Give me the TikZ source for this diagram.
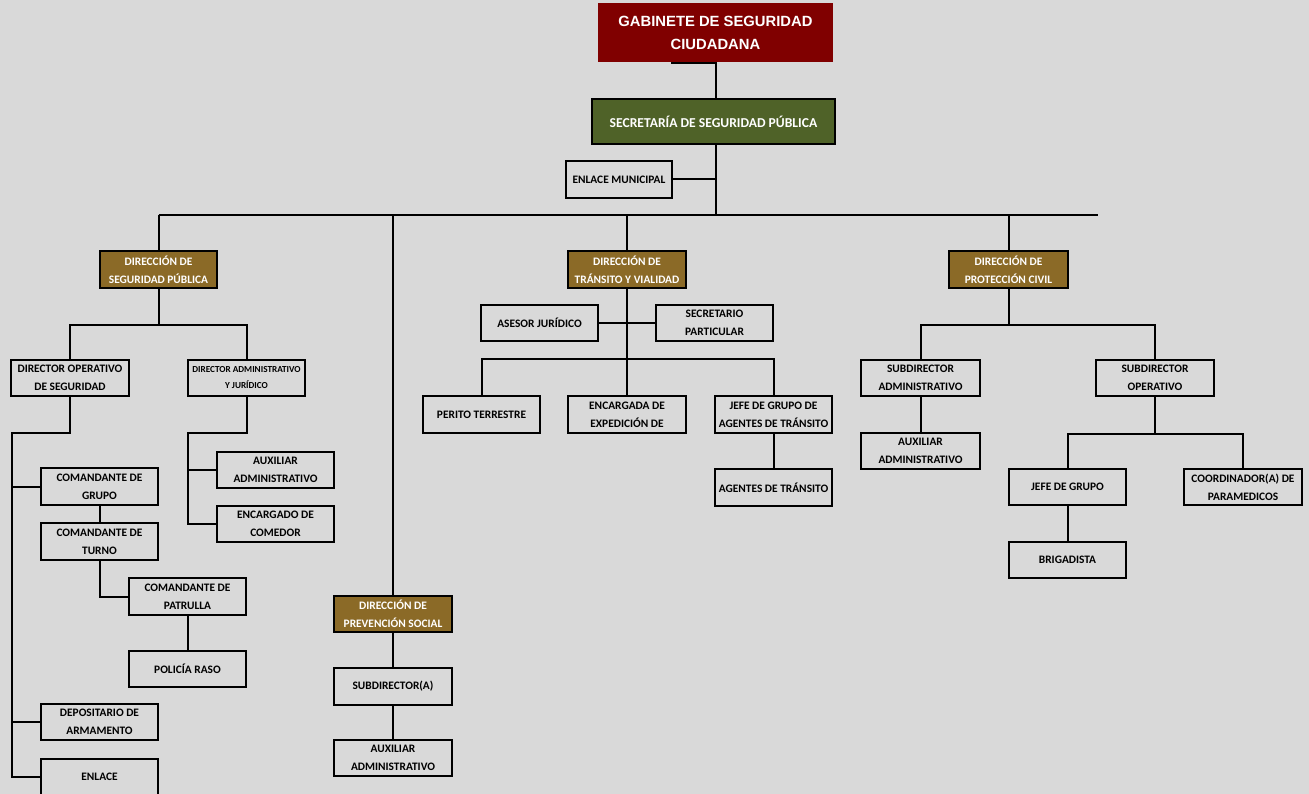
\documentclass[tikz,border=0pt]{standalone}
\usepackage{fontspec}
\setmainfont{Carlito}
\newfontfamily\arialf{Liberation Sans}
\usetikzlibrary{calc}
\definecolor{bg}{RGB}{217,217,217}
\definecolor{gabred}{RGB}{128,0,0}
\definecolor{secgreen}{RGB}{79,98,40}
\definecolor{dirbrown}{RGB}{139,106,39}
\begin{document}
\begin{tikzpicture}[x=1pt,y=-1pt,
  box/.style={draw=black, line width=1.9pt, inner sep=0pt, align=center,
    font=\bfseries\fontsize{11.4}{18}\selectfont, text=black},
  dirbox/.style={box, fill=dirbrown, text=white, font=\bfseries\fontsize{11.4}{18}\selectfont},
  conn/.style={line width=2pt, black}]
\fill[bg] (0,0) rectangle (1309,794);
\useasboundingbox (0,0) rectangle (1309,794);
% top
\node[fill=gabred, text=white, inner sep=0pt, align=center, minimum width=235pt, minimum height=59pt,
  font=\arialf\bfseries\fontsize{14.8}{23}\selectfont] (gab) at (715.5,32.5) {GABINETE DE SEGURIDAD\\CIUDADANA};
\node[box, fill=secgreen, text=white, minimum width=243pt, minimum height=45pt,
  font=\bfseries\fontsize{13.6}{18}\selectfont] (sec) at (713.5,121.5) {SECRETARÍA DE SEGURIDAD PÚBLICA};
\node[box, minimum width=106pt, minimum height=37pt] (enl) at (619,179.5) {ENLACE MUNICIPAL};
% direcciones
\node[dirbox, minimum width=117pt, minimum height=37pt] (dsp) at (158.5,269.5) {DIRECCIÓN DE\\SEGURIDAD PÚBLICA};
\node[dirbox, minimum width=118pt, minimum height=37pt] (dtv) at (627,269.5) {DIRECCIÓN DE\\TRÁNSITO Y VIALIDAD};
\node[dirbox, minimum width=119pt, minimum height=37pt] (dpc) at (1008.5,269.5) {DIRECCIÓN DE\\PROTECCIÓN CIVIL};
\node[dirbox, minimum width=118pt, minimum height=36pt] (dps) at (393,614) {DIRECCIÓN DE\\PREVENCIÓN SOCIAL};
% seguridad publica
\node[box, minimum width=118pt, minimum height=36pt] (dop) at (70,378) {DIRECTOR OPERATIVO\\DE SEGURIDAD};
\node[box, minimum width=117pt, minimum height=36pt, font=\bfseries\fontsize{9.2}{16}\selectfont] (dad) at (246.5,378) {DIRECTOR ADMINISTRATIVO\\Y JURÍDICO};
\node[box, minimum width=117pt, minimum height=37pt] (cgr) at (99.5,486.5) {COMANDANTE DE\\GRUPO};
\node[box, minimum width=117pt, minimum height=37pt] (ctu) at (99.5,541.5) {COMANDANTE DE\\TURNO};
\node[box, minimum width=117pt, minimum height=37pt] (cpa) at (187.5,596.5) {COMANDANTE DE\\PATRULLA};
\node[box, minimum width=117pt, minimum height=36pt] (pra) at (187.5,669) {POLICÍA RASO};
\node[box, minimum width=117pt, minimum height=36pt] (dep) at (99.5,722) {DEPOSITARIO DE\\ARMAMENTO};
\node[box, minimum width=117pt, minimum height=36pt] (enl2) at (99.5,777) {ENLACE};
\node[box, minimum width=117pt, minimum height=36pt] (aux1) at (275.5,470) {AUXILIAR\\ADMINISTRATIVO};
\node[box, minimum width=117pt, minimum height=36pt] (ecm) at (275.5,524) {ENCARGADO DE\\COMEDOR};
% prevencion
\node[box, minimum width=118pt, minimum height=37pt] (sub) at (393,686.5) {SUBDIRECTOR(A)};
\node[box, minimum width=118pt, minimum height=36pt] (aux2) at (393,758) {AUXILIAR\\ADMINISTRATIVO};
% transito
\node[box, minimum width=117pt, minimum height=36pt] (ase) at (539.5,323) {ASESOR JURÍDICO};
\node[box, minimum width=117pt, minimum height=36pt] (spa) at (714.5,323) {SECRETARIO\\PARTICULAR};
\node[box, minimum width=117pt, minimum height=37pt] (per) at (481.5,414.5) {PERITO TERRESTRE};
\node[box, minimum width=118pt, minimum height=37pt] (exp) at (627,414.5) {ENCARGADA DE\\EXPEDICIÓN DE};
\node[box, minimum width=117pt, minimum height=37pt] (jga) at (773.5,414.5) {JEFE DE GRUPO DE\\AGENTES DE TRÁNSITO};
\node[box, minimum width=117pt, minimum height=37pt] (agt) at (773.5,487.5) {AGENTES DE TRÁNSITO};
% proteccion civil
\node[box, minimum width=119pt, minimum height=36pt] (sad) at (920.5,378) {SUBDIRECTOR\\ADMINISTRATIVO};
\node[box, minimum width=118pt, minimum height=36pt] (sop) at (1155,378) {SUBDIRECTOR\\OPERATIVO};
\node[box, minimum width=119pt, minimum height=36pt] (aux3) at (920.5,451) {AUXILIAR\\ADMINISTRATIVO};
\node[box, minimum width=117pt, minimum height=36pt] (jgr) at (1067.5,487) {JEFE DE GRUPO};
\node[box, minimum width=118pt, minimum height=36pt] (coo) at (1243,487) {COORDINADOR(A) DE\\PARAMEDICOS};
\node[box, minimum width=117pt, minimum height=36pt] (bri) at (1067.5,560) {BRIGADISTA};
% coordinates
\coordinate (bus) at (716,215);
\coordinate (busL) at (158.5,215);
\coordinate (busR) at (1098,215);
\coordinate (gabtick) at (671,63);
\coordinate (opbus) at (12,433);
\coordinate (adbus) at (188,433);
\coordinate (tvbus) at (627,359);
% connectors
\draw[conn] (gabtick) -- (bus |- gabtick) -- (bus |- sec.north);
\draw[conn] (bus |- sec.south) -- (bus);
\draw[conn] (enl.east) -- (bus |- enl.east);
\draw[conn] (busL) -- (busR);
\draw[conn] (busL) -- (dsp.north);
\draw[conn] (dps.north |- bus) -- (dps.north);
\draw[conn] (dtv.north |- bus) -- (dtv.north);
\draw[conn] (dpc.north |- bus) -- (dpc.north);
% seguridad publica
\draw[conn] (dsp.south) -- ++(0,36) coordinate (spj) -| (dop.north);
\draw[conn] (spj) -| (dad.north);
\draw[conn] (dop.south) |- (opbus) |- (enl2.west);
\draw[conn] (opbus |- cgr.west) -- (cgr.west);
\draw[conn] (opbus |- dep.west) -- (dep.west);
\draw[conn] (cgr.south) -- (ctu.north);
\draw[conn] (ctu.south) |- (cpa.west);
\draw[conn] (cpa.south) -- (pra.north);
\draw[conn] (dad.south) |- (adbus) |- (ecm.west);
\draw[conn] (adbus |- aux1.west) -- (aux1.west);
% prevencion
\draw[conn] (dps.south) -- (sub.north);
\draw[conn] (sub.south) -- (aux2.north);
% transito
\draw[conn] (dtv.south) -- (tvbus);
\draw[conn] (ase.east) -- (spa.west);
\draw[conn] (per.north) |- (tvbus) -| (jga.north);
\draw[conn] (tvbus) -- (exp.north);
\draw[conn] (jga.south) -- (agt.north);
% proteccion civil
\draw[conn] (dpc.south) -- ++(0,36) coordinate (pcj) -| (sad.north);
\draw[conn] (pcj) -| (sop.north);
\draw[conn] (sad.south) -- (aux3.north);
\draw[conn] (sop.south) -- ++(0,37) coordinate (soj) -| (jgr.north);
\draw[conn] (soj) -| (coo.north);
\draw[conn] (jgr.south) -- (bri.north);
\end{tikzpicture}
\end{document}
